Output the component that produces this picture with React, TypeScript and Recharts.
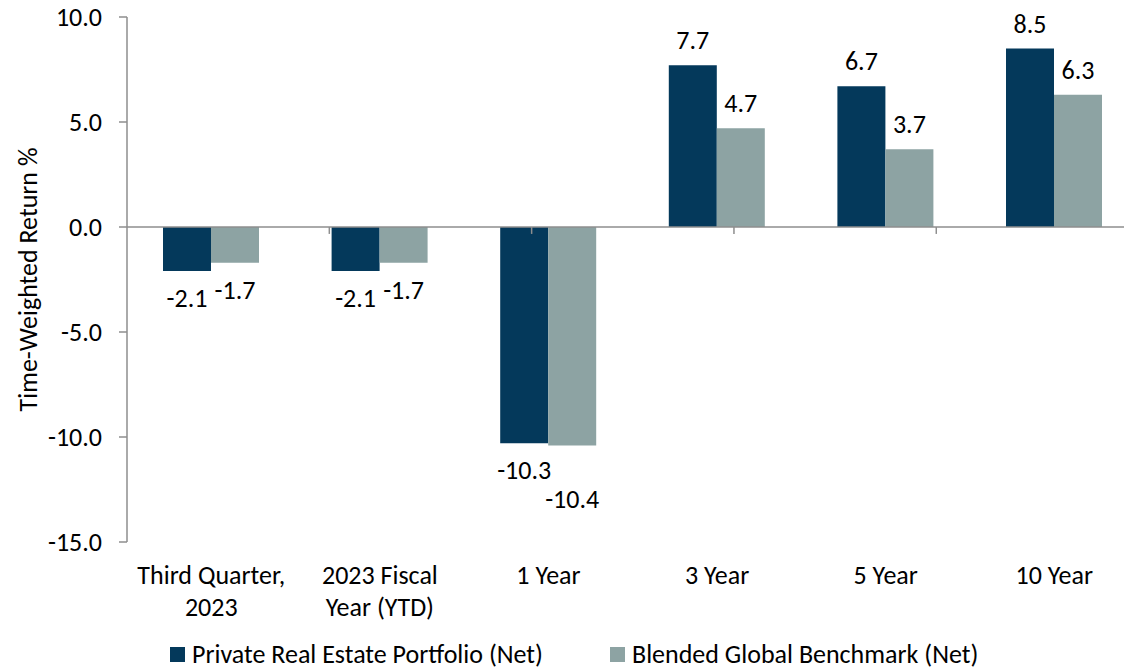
import React from "react";
import { BarChart, Bar, XAxis, YAxis, ReferenceLine, Legend, LabelList } from "recharts";

const categories = ["Third Quarter,\n2023", "2023 Fiscal\nYear (YTD)", "1 Year", "3 Year", "5 Year", "10 Year"];
const portfolio = [-2.1, -2.1, -10.3, 7.7, 6.7, 8.5];
const benchmark = [-1.7, -1.7, -10.4, 4.7, 3.7, 6.3];
const yTicks = [-15, -10, -5, 0, 5, 10];
const seriesNames = ["Private Real Estate Portfolio (Net)", "Blended Global Benchmark (Net)"];
const boundaries = [1, 2, 3, 4, 5, 6];

const data = categories.map((c, i) => ({ name: c, idx: i, portfolio: portfolio[i], benchmark: benchmark[i] }));

const FONT = "Carlito, Calibri, Lato, sans-serif";
const FS = 26;
const DARK = "#04395B";
const LIGHT = "#8DA3A3";
const AXIS = "#8E8E8E";

const makeLabel = (series: "portfolio" | "benchmark") => (props: any) => {
  const { x, y, width, height, value, index } = props;
  const top = Math.min(y, y + height);
  const bottom = Math.max(y, y + height);
  let cy = value >= 0 ? top - 25 : bottom + 27;
  if (series === "benchmark" && value < 0) {
    const other = portfolio[index];
    if (Math.abs(other - value) < 0.5 && Math.abs(value) >= 10) cy += 27;
  }
  return (
    <text x={x + width / 2} y={cy} textAnchor="middle" dominantBaseline="central"
      fontFamily={FONT} fontSize={FS} fill="#000">
      {Number(value).toFixed(1)}
    </text>
  );
};

const XTick = (props: any) => {
  const { x, y, payload } = props;
  const lines = String(payload.value).split("\n");
  return (
    <text x={x} y={y} textAnchor="middle" fontFamily={FONT} fontSize={FS} fill="#000">
      {lines.map((l, i) => (
        <tspan key={i} x={x} dy={i === 0 ? 34 : 31.5}>{l}</tspan>
      ))}
    </text>
  );
};

const YLabel = (props: any) => {
  const vb = props.viewBox || {};
  const cx = 28;
  const cy = vb.y + vb.height / 2;
  return (
    <text x={cx} y={cy} transform={`rotate(-90, ${cx}, ${cy})`} textAnchor="middle"
      dominantBaseline="central" fontFamily={FONT} fontSize={FS} fill="#000">
      Time-Weighted Return %
    </text>
  );
};

const LegendContent = () => (
  <div style={{ height: 40, position: "relative", fontFamily: FONT, fontSize: FS, color: "#000" }}>
    {[DARK, LIGHT].map((c, i) => (
      <div key={i} style={{ position: "absolute", left: i === 0 ? 170 : 610, top: 19, display: "flex", alignItems: "center", whiteSpace: "nowrap", lineHeight: "26px" }}>
        <span style={{ display: "inline-block", width: 15, height: 15, background: c, marginRight: 7 }} />
        <span>{seriesNames[i]}</span>
      </div>
    ))}
  </div>
);

export default function App() {
  return (
    <div style={{ position: "fixed", left: 0, top: 0, width: 1124, height: 671, overflow: "hidden", background: "#fff" }}>
      <BarChart width={1160} height={671} data={data}
        margin={{ top: 17, right: 21.4, bottom: 9, left: 0 }} barGap={0} barSize={48}>
        <XAxis dataKey="name" axisLine={false} tickLine={false} interval={0} height={80} tick={<XTick />} />
        <XAxis xAxisId="n" type="number" domain={[0, 6]} hide />
        <YAxis domain={[-15, 10]} ticks={yTicks} width={127} interval={0}
          tickFormatter={(v: number) => v.toFixed(1)}
          axisLine={{ stroke: AXIS, strokeWidth: 1.5 }} tickLine={{ stroke: AXIS, strokeWidth: 1.5 }}
          tickSize={8} tickMargin={17}
          tick={{ fontFamily: FONT, fontSize: FS, fill: "#000" }}
          label={<YLabel />} />
        <Legend verticalAlign="bottom" height={40} content={<LegendContent />} />
        <Bar dataKey="portfolio" fill={DARK} isAnimationActive={false}>
          <LabelList dataKey="portfolio" content={makeLabel("portfolio")} />
        </Bar>
        <Bar dataKey="benchmark" fill={LIGHT} isAnimationActive={false}>
          <LabelList dataKey="benchmark" content={makeLabel("benchmark")} />
        </Bar>
        <ReferenceLine y={0} stroke={AXIS} strokeWidth={1.5} ifOverflow="visible" />
        {boundaries.map((b) => (
          <ReferenceLine key={b} xAxisId="n" segment={[{ x: b, y: 0 }, { x: b, y: -0.33 }]}
            stroke={AXIS} strokeWidth={1.5} ifOverflow="visible" />
        ))}
      </BarChart>
    </div>
  );
}
